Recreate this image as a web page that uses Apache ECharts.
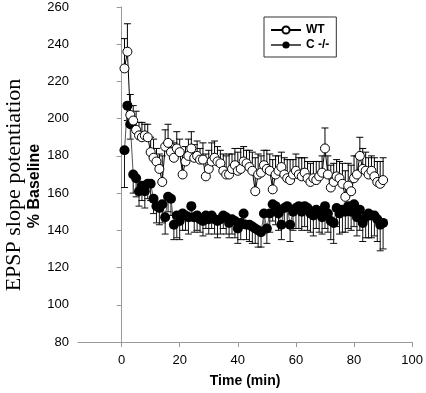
<!DOCTYPE html>
<html>
<head>
<meta charset="utf-8">
<script src="https://cdn.jsdelivr.net/npm/echarts@6/dist/echarts.min.js"></script>
<style>
html,body{margin:0;padding:0;background:#fff;}
#chart{width:426px;height:393px;}
</style>
</head>
<body>
<div id="chart"></div>
<script>
// Time points (min)
const times = [1,2,3,4,5,6,7,8,9,10,11,12,13,14,15,16,17,18,19,20,
  21,22,23,24,25,26,27,28,29,30,31,32,33,34,35,36,37,38,39,40,
  41,42,43,44,45,46,47,48,49,50,51,52,53,54,55,56,57,58,59,60,
  61,62,63,64,65,66,67,68,69,70,71,72,73,74,75,76,77,78,79,80,
  81,82,83,84,85,86,87,88,89,90];

// WT: mean and (upper) error
const wtMean = [227,236,202,199,194,191,190,191,190,182,179,177,173,166,185,187,182,179,184,182,
  170,177,180,184,179,180,178,178,169,173,177,179,177,176,172,170,170,173,175,172,
  173,177,176,174,172,161,170,171,175,173,172,162,170,172,174,170,168,167,170,172,
  170,169,171,168,166,168,167,169,171,184,170,163,166,169,168,165,158,164,161,168,
  170,180,173,172,170,172,169,166,165,167];
const wtErr = [16,15,11,8,10,7,8,6,7,8,10,7,8,14,9,10,6,8,9,7,
  12,8,9,9,7,8,6,9,12,10,10,9,8,7,9,10,11,8,9,10,
  11,8,7,9,10,18,11,9,8,10,9,16,10,8,8,9,10,11,8,9,
  9,10,8,9,10,9,10,8,9,11,10,12,10,9,9,11,14,12,14,12,
  10,10,11,10,9,8,10,11,12,12];

// C -/-: mean and (lower) error
const koMean = [183,207,197,170,168,161,164,161,165,165,157,153,152,154,147,158,157,143,148,145,
  149,148,147,153,147,148,146,145,148,146,148,146,145,146,148,147,144,146,145,141,
  144,149,143,143,142,141,140,139,149,141,149,154,153,149,143,152,153,143,150,152,
  153,150,153,152,149,148,151,150,147,153,149,145,144,152,149,151,150,153,150,154,
  147,151,144,147,149,148,148,146,143,144];
const koErr = [20,8,8,10,10,8,8,9,8,9,8,9,9,10,9,8,9,8,12,10,
  9,8,9,8,8,8,7,8,7,8,7,8,9,8,7,9,8,8,9,8,
  9,8,8,9,9,8,9,8,9,8,10,9,10,9,8,10,11,9,10,11,
  12,10,11,12,10,11,10,11,9,12,10,10,11,10,11,12,11,12,10,12,
  10,11,10,11,13,12,11,12,14,14];

const xTicks = [0,20,40,60,80,100];
const seriesNames = ['WT','C -/-'];

const wtLine = times.map((t,i)=>[t, wtMean[i]]);
const koLine = times.map((t,i)=>[t, koMean[i]]);
const wtBars = times.map((t,i)=>[t, wtMean[i], wtErr[i]]);
const koBars = times.map((t,i)=>[t, koMean[i], koErr[i]]);

function errRender(dir, color){
  return function(params, api){
    const x = api.value(0), v = api.value(1), e = api.value(2);
    const p1 = api.coord([x, v]);
    const p2 = api.coord([x, v + dir*e]);
    const st = {stroke: color, lineWidth: 1};
    return {type:'group', children:[
      {type:'line', shape:{x1:p1[0], y1:p1[1], x2:p2[0], y2:p2[1]}, style:st},
      {type:'line', shape:{x1:p2[0]-3.5, y1:p2[1], x2:p2[0]+3.5, y2:p2[1]}, style:st}
    ]};
  };
}

const chart = echarts.init(document.getElementById('chart'), null, {renderer:'canvas'});
const axisGrey = '#9a9a9a';
chart.setOption({
  animation: false,
  backgroundColor: '#fff',
  grid: {left:78, right:12, top:7, bottom:50, containLabel:false},
  xAxis: {
    type:'value', min:-15, max:100,
    name:'Time (min)', nameLocation:'middle', nameGap:32,
    nameTextStyle:{fontFamily:'Arial, "Liberation Sans"', fontWeight:'bold', fontSize:14, color:'#000'},
    axisLine:{show:true, onZero:false, lineStyle:{color:axisGrey, width:1}},
    axisTick:{show:true, inside:false, length:5, customValues:xTicks, lineStyle:{color:axisGrey}},
    axisLabel:{customValues:xTicks, margin:12, fontFamily:'Arial, "Liberation Sans"', fontSize:13, color:'#000'},
    splitLine:{show:false}
  },
  yAxis: {
    type:'value', min:80, max:260, interval:20,
    axisLine:{show:true, lineStyle:{color:axisGrey, width:1}},
    axisTick:{show:true, inside:false, length:5, lineStyle:{color:axisGrey}},
    axisLabel:{margin:9, fontFamily:'Arial, "Liberation Sans"', fontSize:13, color:'#000'},
    splitLine:{show:false}
  },
  legend: {
    data: seriesNames,
    orient:'vertical', left:264, top:17,
    borderColor:'#333', borderWidth:1, padding:[7,7,6,6],
    itemWidth:30, itemHeight:9, itemGap:3,
    textStyle:{fontFamily:'Arial, "Liberation Sans"', fontWeight:'bold', fontSize:12, color:'#000'}
  },
  graphic: [
    {type:'text', x:14, y:185, rotation:Math.PI/2,
      style:{text:'EPSP slope potentiation', font:'22px "Liberation Serif", "Times New Roman", serif', fill:'#000', align:'center', verticalAlign:'middle'}},
    {type:'text', x:35, y:186, rotation:Math.PI/2,
      style:{text:'% Baseline', font:'bold 16px "Liberation Sans", Arial, sans-serif', fill:'#000', align:'center', verticalAlign:'middle'}}
  ],
  series: [
    {type:'custom', name:'wtErr', data:wtBars, renderItem:errRender(1,'#000'), z:1, silent:true},
    {type:'custom', name:'koErr', data:koBars, renderItem:errRender(-1,'#111'), z:1, silent:true},
    {type:'line', name:'C -/-', data:koLine, symbol:'circle', symbolSize:10, showSymbol:true,
      lineStyle:{color:'#555', width:1}, itemStyle:{color:'#000', borderColor:'#000', borderWidth:0}, z:3},
    {type:'line', name:'WT', data:wtLine, symbol:'circle', symbolSize:9, showSymbol:true,
      lineStyle:{color:'#000', width:1}, itemStyle:{color:'#fff', borderColor:'#000', borderWidth:1}, z:4}
  ]
});
</script>
</body>
</html>
